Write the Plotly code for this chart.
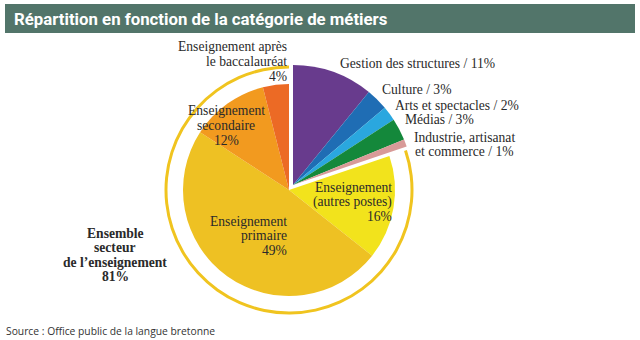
import plotly.graph_objects as go

# ---- data ----
other_labels = ["Gestion des structures", "Culture", "Arts et spectacles", "Médias",
                "Industrie, artisanat et commerce"]
other_values = [11, 3, 2, 3, 1]
other_colors = ["#683b8d", "#1f6db4", "#2aa7df", "#14883b", "#d89a98"]

teach_labels = ["Enseignement (autres postes)", "Enseignement primaire",
                "Enseignement secondaire", "Enseignement après le baccalauréat"]
teach_values = [16, 49, 12, 4]
teach_colors = ["#f2e31c", "#eec123", "#f29a1f", "#ec6a25"]

group_label = "Ensemble secteur de l’enseignement"
group_value = 81

W, H = 640, 340
TRANSP = "rgba(0,0,0,0)"
SERIF = "Liberation Serif"
TXT = "#2a2a2a"
LS = 14.6  # line spacing of the labels, px
FS = 13.6  # label font size


def px(x):
    return x / W


def py(y):
    return (H - y) / H


def dom(cx, cy, r):
    return dict(x=[px(cx - r), px(cx + r)], y=[py(cy + r), py(cy - r)])


other_total = sum(other_values)
teach_total = sum(teach_values)

fig = go.Figure()

# ring around the teaching group
fig.add_trace(go.Pie(
    values=[other_total, teach_total], labels=["autres", group_label],
    sort=False, direction="clockwise", rotation=0, hole=0.976,
    marker=dict(colors=[TRANSP, "#f0c41f"], line=dict(width=0)),
    textinfo="none", textposition="none", hoverinfo="skip",
    domain=dom(289, 190, 124.5), showlegend=False,
))

# non-teaching group (bigger radius, offset up-right)
fig.add_trace(go.Pie(
    values=other_values + [teach_total], labels=other_labels + ["_teach"],
    sort=False, direction="clockwise", rotation=0,
    marker=dict(colors=other_colors + [TRANSP], line=dict(width=0)),
    textinfo="none", textposition="none", hoverinfo="skip",
    domain=dom(293, 185, 120), showlegend=False,
))

# teaching group (smaller radius, offset down-left)
fig.add_trace(go.Pie(
    values=[other_total] + teach_values, labels=["_other"] + teach_labels,
    sort=False, direction="clockwise", rotation=0,
    marker=dict(colors=[TRANSP] + teach_colors, line=dict(width=0)),
    textinfo="none", textposition="none", hoverinfo="skip",
    domain=dom(289, 190, 106), showlegend=False,
))

annots = []


def add(text, x, y, xanchor="left", size=FS, bold=False, family=SERIF, color=TXT):
    """one annotation per line, first line centred on y"""
    for i, line in enumerate(text.split("\n")):
        annots.append(dict(
            text=f"<b>{line}</b>" if bold else line, x=px(x), y=py(y + i * LS),
            xref="paper", yref="paper", xanchor=xanchor, yanchor="middle",
            showarrow=False, font=dict(family=family, size=size, color=color),
        ))


# non-teaching labels
add(f"{other_labels[0]} / {other_values[0]}%", 338, 63)
add(f"{other_labels[1]} / {other_values[1]}%", 380, 90)
add(f"{other_labels[2]} / {other_values[2]}%", 393, 105)
add(f"{other_labels[3]} / {other_values[3]}%", 403, 120)
add(f"Industrie, artisanat\net commerce / {other_values[4]}%", 464, 137, xanchor="center")

# teaching labels
add(f"Enseignement\n(autres postes)\n{teach_values[0]}%", 394, 187, xanchor="right")
add(f"Enseignement\nprimaire\n{teach_values[1]}%", 289, 221, xanchor="right")
add(f"Enseignement\nsecondaire\n{teach_values[2]}%", 226, 111, xanchor="center")
add(f"Enseignement après\nle baccalauréat\n{teach_values[3]}%", 289, 47, xanchor="right")

# group label
add(f"Ensemble\nsecteur\nde l’enseignement\n{group_value}%", 115, 233, xanchor="center", bold=True)

# title
add("Répartition en fonction de la catégorie de métiers", 12, 19, size=16.8, bold=True,
    family="Liberation Sans Narrow, Roboto", color="#ffffff")

# source
add("Source : Office public de la langue bretonne", 4, 331, size=10.3, family="Open Sans", color="#333333")

fig.update_layout(
    width=W, height=H, autosize=False,
    margin=dict(l=0, r=0, t=0, b=0),
    paper_bgcolor="white", plot_bgcolor="white",
    annotations=annots,
    shapes=[dict(type="rect", xref="paper", yref="paper", x0=px(5), x1=px(635), y0=py(33), y1=py(4),
                 fillcolor="#52756a", line=dict(width=0), layer="below")],
)

fig.write_html("out.html")
